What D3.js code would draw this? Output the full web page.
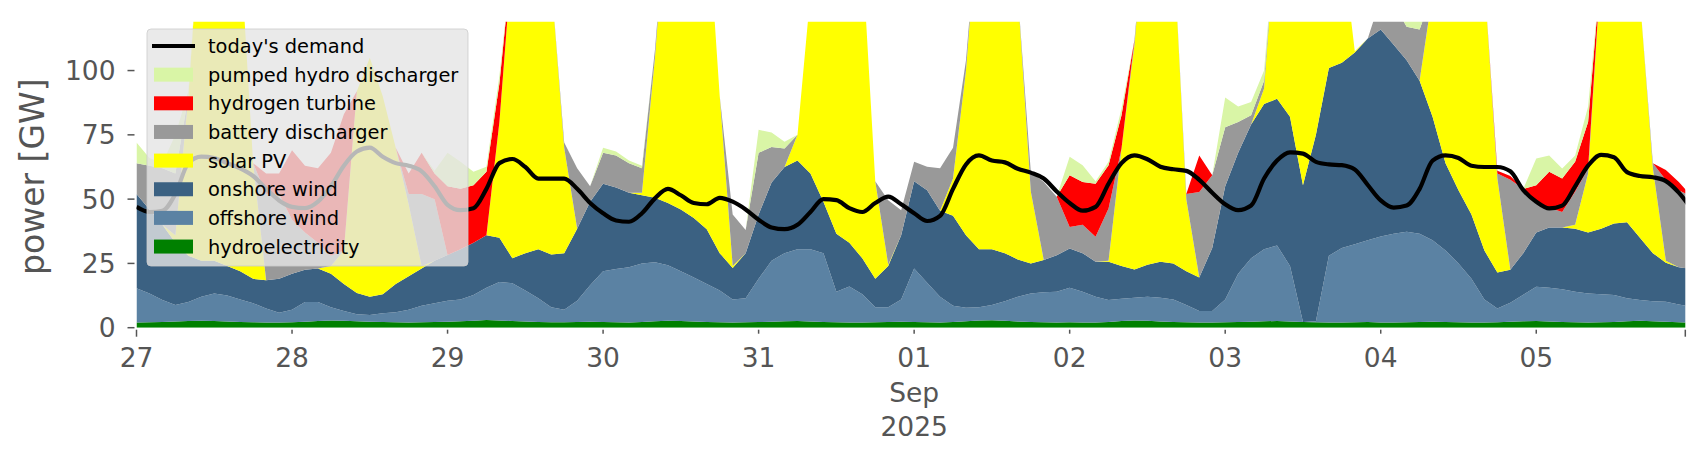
<!DOCTYPE html>
<html>
<head>
<meta charset="utf-8">
<script src="https://cdn.jsdelivr.net/npm/d3@7"></script>
<style>
	body { margin: 0; background: #fff; }
	svg { display: block; font-family: "DejaVu Sans", sans-serif; }
</style>
</head>
<body>
<svg id="chart" width="1706" height="460"></svg>
<script>
// 2-hourly values in GW, from 27 Aug 2025 00:00
var hydro = [2.0,2.1,2.2,2.4,2.6,2.7,2.6,2.4,2.2,2.1,2.0,2.0,
	2.1,2.3,2.6,2.8,2.7,2.5,2.3,2.2,2.1,2.0,2.1,2.2,
	2.3,2.5,2.7,3.0,2.8,2.6,2.4,2.2,2.1,2.1,2.2,2.3,
	2.2,2.1,2.0,2.2,2.5,2.7,2.6,2.4,2.2,2.1,2.0,2.1,
	2.2,2.3,2.5,2.6,2.4,2.2,2.1,2.0,2.0,2.1,2.2,2.3,
	2.2,2.1,2.0,2.2,2.5,2.8,2.9,2.7,2.4,2.2,2.1,2.0,
	2.1,2.0,2.0,2.2,2.6,2.8,2.7,2.4,2.2,2.1,2.0,2.0,
	2.1,2.2,2.3,2.5,2.6,2.4,2.2,2.1,2.0,2.0,2.1,2.2,
	2.0,2.0,2.1,2.2,2.3,2.2,2.1,2.0,2.0,2.1,2.3,2.5,
	2.6,2.4,2.2,2.1,2.0,2.1,2.2,2.5,2.7,2.5,2.3,2.1,
	2.0];
var offshore = [13.3,11.2,8.6,6.4,7.4,9.3,10.7,10.1,8.8,7.4,5.5,3.8,
	4.9,7.7,7.4,5.2,3.8,2.7,2.6,3.4,3.9,5.0,6.4,7.3,
	8.2,8.5,10.0,12.5,15.0,14.7,12.1,9.3,5.9,4.9,8.3,14.2,
	19.8,20.7,21.5,22.8,23.0,21.6,19.4,17.1,14.8,12.4,9.0,9.4,
	16.8,23.7,26.5,27.9,28.1,26.8,11.9,14.0,11.0,5.9,5.8,8.7,
	20.8,15.4,10.0,6.3,5.3,5.2,5.9,7.6,9.6,11.1,11.7,12.0,
	13.4,12.0,10.0,8.6,8.7,8.8,9.3,9.2,8.8,6.7,4.5,4.5,
	8.9,18.8,24.7,28.0,29.4,21.6,0.0,0.4,26.0,29.0,30.4,31.8,
	33.5,34.5,35.2,34.3,31.7,27.8,22.9,17.0,9.0,5.4,7.4,10.3,
	13.3,13.1,12.8,11.9,11.3,10.9,10.5,9.0,8.1,7.8,7.8,6.9,
	6.2];
var onshore = [36.7,32.7,29.2,24.2,18.0,14.0,12.7,11.5,11.0,9.5,11.0,13.2,
	14.0,12.5,13.0,13.0,10.5,8.3,7.1,7.4,11.0,13.0,14.5,16.5,
	17.8,19.5,20.3,20.5,17.2,9.7,14.5,19.0,20.5,22.0,28.0,32.5,
	34.0,31.7,29.0,26.5,25.0,24.2,24.0,23.2,21.3,14.5,12.2,17.5,
	25.0,30.5,33.5,34.5,29.5,20.0,22.5,17.0,14.0,11.0,16.0,25.0,
	34.0,36.0,33.5,35.0,28.2,22.5,21.7,18.7,14.5,11.7,12.5,14.2,
	15.3,15.0,13.6,14.8,12.7,11.0,12.5,14.0,14.0,13.2,13.0,24.5,
	44.0,47.0,52.0,56.5,57.0,58.0,53.2,72.5,73.0,72.0,74.5,78.5,
	80.5,73.5,66.7,59.5,48.0,34.0,28.5,25.0,19.0,14.0,12.8,16.2,
	21.1,23.5,24.0,24.5,23.7,25.5,27.8,29.5,24.2,18.7,15.2,14.5,
	14.6];
var solar = [0,0,0,3,62,139,149,146,126,45,0,0,
	0,0,0,3,13,78.5,93,77,53,28,1,0,
	0,0,0,0,45,118,141,139.5,106.5,41,0,0,
	0,0,0,1,54.5,121.5,129,132.3,126.7,61,0.8,0,
	0,0,0,10,70,126,138.5,137,118,38,0.5,0,
	0,0,0,14.5,64,134.5,134.5,126,103.5,28,0,0,
	0,0,0,0.4,45.7,87.4,145.5,139.4,125,28,0,0,
	0,0,0,6,71,83,109.6,90,74,47,0.5,0,
	0,0,0,0,48,101,116.5,121,105,36.5,0,0,
	0,0,0,1.5,23,101.5,129.5,124,93,33,0.7,0,
	0];
var battery = [12,17,22,24,0,0,0,0,0,0,33.5,33,
	21,14.5,10,4,0,0,0,0,0,4,28,24,
	0,0,0,0,0,0,0,0,0,2,23.5,6,
	12,12.5,11.5,9.5,3,0,0,0,0,0,20,9,
	24,13.8,7.2,0,0,0,0,0,0,0,25.1,9.7,
	7.5,9.1,16.5,12,4,0,0,0,0,7.6,30.4,22.7,
	8.4,11,9.8,20.4,0,2,0,0,0,2,33.3,28.3,
	23,12,3.6,3,0,0,0,0,0,0,0,0,
	12,16,13,20,0,0,0,0,0,2,35,25,
	12,7.6,6,13,2,0,0,0,0,2,31.4,30,
	28.2];
var hydrogen = [0,0,0,0,0,0,0,0,0,0,8,8,
	27,26,29,40,53,0,0,0,0,8,16,10,
	26.7,23.5,22.4,24.6,15,0,0,0,0,0,0,0,
	0,0,0,0,0,0,0,0,0,0,0,0,
	0,0,0,0,0,0,0,0,0,0,0,0,
	0,0,0,0,0,0,0,0,0,0,0,0,
	20.1,16.7,20.6,16.8,12.9,0,0,0,0,0,14.2,0,
	0,0,0,0,0,0,0,0,0,0,0,0,
	0,0,0,0,0,0,0,0,0,1,1.5,0,
	6.4,14,13,11.5,18,0,0,0,0,0,3.9,3.2,
	0];
var pumped = [8,3,2,15,2,0,0,0,0,0,0,0,
	0,0,0,0,0,0,0,0,0,0,0,1,
	13,10.5,5.2,2,3,0,0,0,0,0,0,0,
	2,1.5,1,1,0,0,0,0,0,0,0,0,
	9,5.6,2.6,0,0,0,0,0,0,0,0,0,
	0,0,0,0,0,0,0,0,0,0,0,0,
	7.2,6.5,1,1.3,2.6,0,0,0,0,0,0,0,
	11.5,6,5.2,4,0,0,0,0,0,0,0,0,
	0,0,7,5,0,0,0,0,0,0,0,0,
	10.4,6.4,3.9,2.5,6,0,0,0,0,0,0,0,
	0];
var demand = [47,45,45.5,52,64,66.5,66,64,62,59,54,49.5,
	47,46.5,49,55,63,68.5,70,66.5,64,63,60.8,55,
	47.8,45.7,46.5,54,64,65.6,62.5,58,58,58,54,48.5,
	44.5,41.7,41.2,44.5,50.3,54,51.5,48.5,48,50.5,49,46,
	42,39,38.3,40,45,50,49.6,46.5,45,48.5,51,48,
	44.5,41.5,43.5,54,63.5,67,65,64.3,61.8,60.3,58,53,
	48.5,45.5,47,56,64,67,65.5,62.6,61.6,61,57.5,52.5,
	48,45.7,47.5,58,65,68.2,67.7,64.5,63.5,63.2,61.5,55.5,
	49.5,46.7,47.5,54,65,67,66,63,62.5,62.5,60.8,53.5,
	49,46.4,47.5,55,63,67.2,66.3,60.5,59,58.5,57,52.5,
	46];

var seriesKeys = ['hydro', 'offshore', 'onshore', 'solar', 'battery', 'hydrogen', 'pumped'];
var seriesColors = {
	hydro: '#008000', offshore: '#5b82a3', onshore: '#3b6182', solar: '#ffff00',
	battery: '#999999', hydrogen: '#ff0000', pumped: '#d9f5a6'
};
var legendKeys = ['demand', 'pumped', 'hydrogen', 'battery', 'solar', 'onshore', 'offshore', 'hydro'];
var legendLabels = ["today's demand", 'pumped hydro discharger', 'hydrogen turbine', 'battery discharger',
	'solar PV', 'onshore wind', 'offshore wind', 'hydroelectricity'];
var yTicks = [0, 25, 50, 75, 100];
var xTickLabels = ['27', '28', '29', '30', '31', '01\nSep\n2025', '02', '03', '04', '05'];

var X0 = 136.5, X1 = 1685.3, Y0 = 327.7, Y1 = 21.7,
	start = Date.UTC(2025, 7, 27),
	end = Date.UTC(2025, 8, 5, 23),
	step = 2 * 3600 * 1000;

var rows = hydro.map(function (d, i) {
	return {
		date: new Date(start + i * step),
		hydro: hydro[i], offshore: offshore[i], onshore: onshore[i], solar: solar[i],
		battery: battery[i], hydrogen: hydrogen[i], pumped: pumped[i], demand: demand[i]
	};
});

var x = d3.scaleUtc().domain([new Date(start), new Date(end)]).range([X0, X1]);
var y = d3.scaleLinear().domain([0, 119]).range([Y0, Y1]);

var svg = d3.select('#chart');

svg.append('defs').append('clipPath')
	.attr('id', 'plotClip')
	.append('rect')
	.attr('x', X0)
	.attr('y', Y1)
	.attr('width', X1 - X0)
	.attr('height', Y0 - Y1);

var plot = svg.append('g').attr('clip-path', 'url(#plotClip)');

var stacked = d3.stack().keys(seriesKeys)(rows);

var area = d3.area()
	.x(function (d) { return x(d.data.date); })
	.y0(function (d) { return y(d[0]); })
	.y1(function (d) { return y(d[1]); });

plot.selectAll('path.area')
	.data(stacked)
	.enter()
	.append('path')
	.attr('class', 'area')
	.attr('fill', function (d) { return seriesColors[d.key]; })
	.attr('d', area);

var line = d3.line()
	.x(function (d) { return x(d.date); })
	.y(function (d) { return y(d.demand); })
	.curve(d3.curveMonotoneX);

plot.append('path')
	.datum(rows)
	.attr('fill', 'none')
	.attr('stroke', '#000')
	.attr('stroke-width', 4.2)
	.attr('stroke-linejoin', 'round')
	.attr('d', line);

// y axis
var yAxis = svg.append('g').attr('class', 'y-axis');
var yTick = yAxis.selectAll('g.tick')
	.data(yTicks)
	.enter()
	.append('g')
	.attr('class', 'tick')
	.attr('transform', function (d) { return 'translate(0,' + y(d) + ')'; });
yTick.append('line')
	.attr('x1', X0 - 9)
	.attr('x2', X0 - 2)
	.attr('stroke', '#555')
	.attr('stroke-width', 1.5);
yTick.append('text')
	.attr('x', X0 - 21)
	.attr('dy', '0.36em')
	.attr('text-anchor', 'end')
	.attr('fill', '#555')
	.attr('font-size', 26.5)
	.text(function (d) { return d; });

svg.append('text')
	.attr('transform', 'translate(44,' + ((Y0 + Y1) / 2 + 2) + ') rotate(-90)')
	.attr('text-anchor', 'middle')
	.attr('fill', '#555')
	.attr('font-size', 33)
	.text('power [GW]');

// x axis
var days = d3.utcDay.range(new Date(start), new Date(end));
var xAxis = svg.append('g').attr('class', 'x-axis');
var xTick = xAxis.selectAll('g.tick')
	.data(days)
	.enter()
	.append('g')
	.attr('class', 'tick')
	.attr('transform', function (d) { return 'translate(' + x(d) + ',0)'; });
xTick.append('line')
	.attr('y1', Y0 + 2)
	.attr('y2', function (d, i) { return i === 0 ? Y0 + 9 : Y0 + 6; })
	.attr('stroke', '#555')
	.attr('stroke-width', 1.5);
xTick.append('text')
	.attr('text-anchor', 'middle')
	.attr('fill', '#555')
	.attr('font-size', 26.5)
	.selectAll('tspan')
	.data(function (d, i) { return xTickLabels[i].split('\n'); })
	.enter()
	.append('tspan')
	.attr('x', 0)
	.attr('y', function (d, i) { return 367 + i * 34.5; })
	.text(function (d) { return d; });
xAxis.append('line')
	.attr('x1', X1)
	.attr('x2', X1)
	.attr('y1', Y0 + 2)
	.attr('y2', Y0 + 9)
	.attr('stroke', '#555')
	.attr('stroke-width', 1.5);

// legend
var legend = svg.append('g').attr('class', 'legend');
legend.append('rect')
	.attr('x', 147)
	.attr('y', 29)
	.attr('width', 321)
	.attr('height', 237)
	.attr('rx', 4)
	.attr('fill', '#e5e5e5')
	.attr('fill-opacity', 0.8)
	.attr('stroke', '#cccccc')
	.attr('stroke-opacity', 0.8);

var item = legend.selectAll('g.item')
	.data(legendKeys)
	.enter()
	.append('g')
	.attr('class', 'item')
	.attr('transform', function (d, i) { return 'translate(0,' + (46 + i * 28.65) + ')'; });
item.filter(function (d) { return d === 'demand'; })
	.append('line')
	.attr('x1', 152)
	.attr('x2', 195)
	.attr('stroke', '#000')
	.attr('stroke-width', 4.2);
item.filter(function (d) { return d !== 'demand'; })
	.append('rect')
	.attr('x', 154)
	.attr('y', -7)
	.attr('width', 39)
	.attr('height', 14)
	.attr('fill', function (d) { return seriesColors[d]; });
item.append('text')
	.attr('x', 208)
	.attr('dy', '0.36em')
	.attr('fill', '#000')
	.attr('font-size', 19.4)
	.text(function (d, i) { return legendLabels[i]; });
</script>
</body>
</html>
